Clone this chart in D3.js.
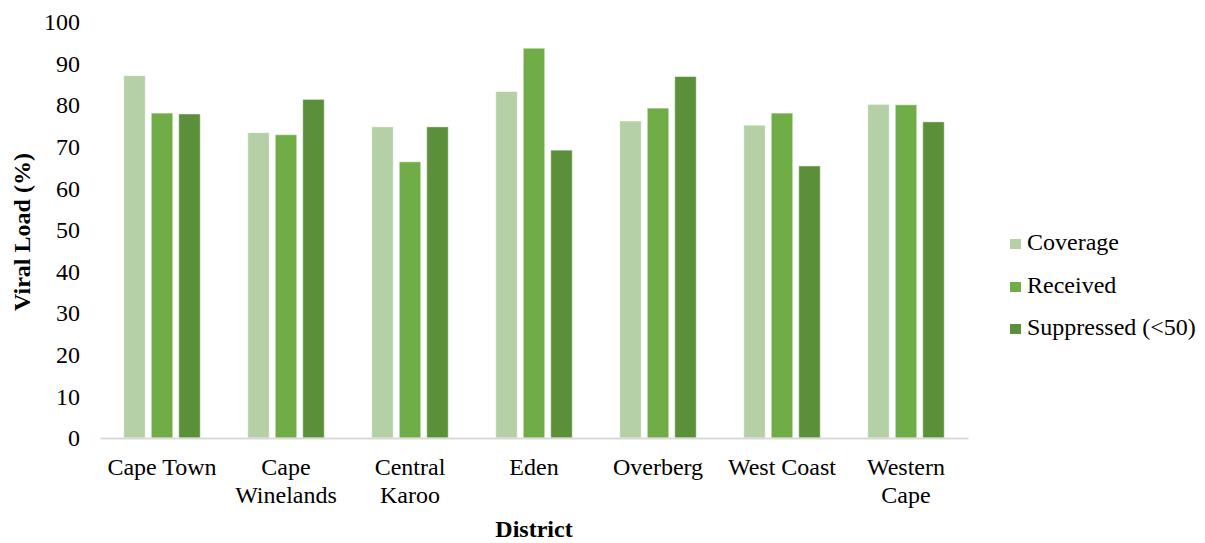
<!DOCTYPE html>
<html>
<head>
<meta charset="utf-8">
<script src="https://cdn.jsdelivr.net/npm/d3@7/dist/d3.min.js"></script>
<style>
  html, body { margin: 0; padding: 0; background: #fff; }
</style>
</head>
<body>
<svg id="chart" width="1205" height="543"></svg>
<script>
const categories = [["Cape Town"], ["Cape", "Winelands"], ["Central", "Karoo"], ["Eden"], ["Overberg"], ["West Coast"], ["Western", "Cape"]];
const seriesNames = ["Coverage", "Received", "Suppressed (<50)"];
const coverage   = [87.1, 73.4, 74.8, 83.3, 76.2, 75.2, 80.2];
const received   = [78.1, 72.9, 66.4, 93.7, 79.3, 78.1, 80.1];
const suppressed = [77.9, 81.4, 74.8, 69.2, 86.9, 65.4, 76.0];
const yTicks = [0, 10, 20, 30, 40, 50, 60, 70, 80, 90, 100];
const colors = ["#b5cfa7", "#70ad47", "#5b8f3a"];

(function () {
const FONT = "Liberation Serif";
const FS = 24;
const series = [coverage, received, suppressed];
const svg = d3.select("#chart");
const mLeft = 100, mRight = 968, mTop = 22, mBottom = 438;

const x0 = d3.scaleBand().domain(d3.range(categories.length)).range([mLeft, mRight]).paddingInner(0).paddingOuter(0);
const groupW = 82.5;
const x1 = d3.scaleBand().domain(d3.range(series.length)).range([0, groupW]).padding(0);
const barW = x1.bandwidth() - 6;
const y = d3.scaleLinear().domain([0, 100]).range([mBottom, mTop]);

// bars
series.forEach((vals, si) => {
  svg.append("g").selectAll("rect").data(vals).join("rect")
    .attr("x", (d, i) => x0(i) + x0.bandwidth() / 2 - (groupW - 6) / 2 + x1(si))
    .attr("y", d => y(d))
    .attr("width", barW)
    .attr("height", d => y(0) - y(d))
    .attr("fill", colors[si])
    .attr("stroke", "#ffffff")
    .attr("stroke-opacity", 0.5)
    .attr("stroke-width", 1);
});

// y axis labels
const yAxis = d3.axisLeft(y).tickValues(yTicks).tickSize(0).tickPadding(20);
const gy = svg.append("g").attr("transform", `translate(${mLeft},0)`).call(yAxis)
  .attr("font-family", FONT).attr("font-size", FS);
gy.select(".domain").remove();
gy.selectAll("text").attr("fill", "#000");

// x axis line
const xAxis = d3.axisBottom(x0).tickSize(0).tickFormat("");
const gx = svg.append("g").attr("transform", `translate(0,${mBottom})`).call(xAxis);
gx.select(".domain").attr("stroke", "#d9d9d9").attr("stroke-width", 2);

// x labels
categories.forEach((lines, i) => {
  const cx = x0(i) + x0.bandwidth() / 2;
  const t = svg.append("text")
    .attr("x", cx)
    .attr("y", 475)
    .attr("text-anchor", "middle")
    .attr("font-family", FONT)
    .attr("font-size", FS);
  lines.forEach((l, j) => {
    t.append("tspan").attr("x", cx).attr("dy", j === 0 ? 0 : 28).text(l);
  });
});

// axis titles
svg.append("text")
  .attr("x", (mLeft + mRight) / 2).attr("y", 537)
  .attr("text-anchor", "middle")
  .attr("font-family", FONT)
  .attr("font-size", FS).attr("font-weight", "bold")
  .text("District");

svg.append("text")
  .attr("transform", `translate(30,232) rotate(-90)`)
  .attr("text-anchor", "middle")
  .attr("font-family", FONT)
  .attr("font-size", FS).attr("font-weight", "bold")
  .text("Viral Load (%)");

// legend
const legendBase = [250, 293, 335];
seriesNames.forEach((name, i) => {
  svg.append("rect")
    .attr("x", 1010).attr("y", legendBase[i] - 11)
    .attr("width", 11).attr("height", 10)
    .attr("fill", colors[i]);
  svg.append("text")
    .attr("x", 1027).attr("y", legendBase[i])
    .attr("font-family", FONT)
    .attr("font-size", FS)
    .text(name);
});
})();
</script>
</body>
</html>
